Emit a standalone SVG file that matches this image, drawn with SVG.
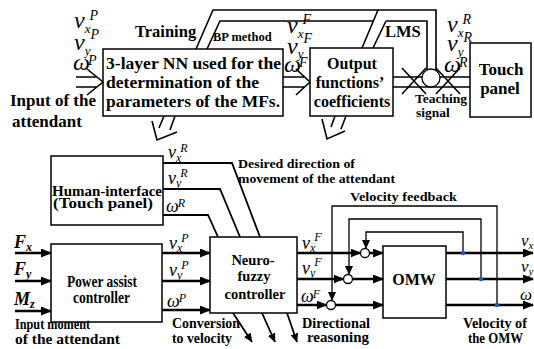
<svg xmlns="http://www.w3.org/2000/svg" width="534" height="349" viewBox="0 0 534 349" font-family="'Liberation Serif', 'Times New Roman', 'DejaVu Serif', serif">
<defs>
<marker id="ah" markerUnits="userSpaceOnUse" markerWidth="11" markerHeight="9" refX="10" refY="4.5" orient="auto"><path d="M0,0 L11,4.5 L0,9 z" fill="#000"/></marker>
<marker id="ahs" markerUnits="userSpaceOnUse" markerWidth="9" markerHeight="8" refX="8.5" refY="4" orient="auto"><path d="M0,0 L9,4 L0,8 z" fill="#000"/></marker>
</defs>
<style>
.box{fill:#fff;stroke:#000;stroke-width:1.5}
.sum{fill:#fff;stroke:#000;stroke-width:1.3}
.t{font-weight:bold;fill:#000}
.v{font-style:italic;fill:#000}
.thick{stroke:#000;stroke-width:2.5;fill:none}
.med{stroke:#000;stroke-width:1.8;fill:none}
.thin{stroke:#000;stroke-width:1.3;fill:none}
.hol{stroke:#000;stroke-width:1.6;fill:none}
.dot{fill:#1a5fb4}
</style>
<rect width="534" height="349" fill="#fff"/>

<g id="connectors">
  <path class="hol" d="M76,77 H97 M76,87 H97 M87,69 L103,82 L87,95"/>
  <path class="hol" d="M283,77 H304 M283,87 H304 M296,69 L310,82 L296,95"/>
  <path class="hol" d="M393,77 H470 M393,87 H470"/>
  <path class="hol" d="M402,68 L426,94 M402,94 L426,68"/>
  <path class="hol" d="M460,68 L436,94 M460,94 L436,68"/>
  <path class="hol" d="M196,49 L213,10 H436 V71"/>
  <path class="hol" d="M207,49 L220,21 H373"/>
  <path class="hol" d="M386,21 H427 V71"/>
  <path class="hol" d="M378,10 L362,48 M386,21 L373,48"/>
  <path class="hol" d="M164,116 L159,128 M175,116 L170,130 M152,121 L157,140 L177,132"/>
  <path class="hol" d="M335,116 L331,127 M346,116 L341,129 M322,119 L327,139 L345,131"/>
  <path class="med" d="M163,163 H232 L260,237"/>
  <path class="med" d="M163,189 H220 L240,237"/>
  <path class="med" d="M163,215 H208 L218,237"/>
  <path class="med" d="M233,313 L252,342" marker-end="url(#ahs)"/>
  <path class="med" d="M262,313 L275,342" marker-end="url(#ahs)"/>
  <path class="med" d="M287,313 L297,342" marker-end="url(#ahs)"/>
  <path class="thick" d="M15,253 H51" marker-end="url(#ah)"/>
  <path class="thick" d="M15,281 H51" marker-end="url(#ah)"/>
  <path class="thick" d="M15,311 H51" marker-end="url(#ah)"/>
  <path class="thick" d="M162,253 H210" marker-end="url(#ah)"/>
  <path class="thick" d="M162,281 H210" marker-end="url(#ah)"/>
  <path class="thick" d="M162,310 H210" marker-end="url(#ah)"/>
  <path class="thick" d="M297,253 H360.5" marker-end="url(#ah)"/>
  <path class="thick" d="M297,279 H343.5" marker-end="url(#ah)"/>
  <path class="thick" d="M297,305 H326.5" marker-end="url(#ah)"/>
  <path class="thick" d="M370,253 H383" marker-end="url(#ah)"/>
  <path class="thick" d="M353,279 H383" marker-end="url(#ah)"/>
  <path class="thick" d="M336,305 H383" marker-end="url(#ah)"/>
  <path class="thick" d="M446,253 H533" marker-end="url(#ah)"/>
  <path class="thick" d="M446,279 H533" marker-end="url(#ah)"/>
  <path class="thick" d="M446,305 H533" marker-end="url(#ah)"/>
  <path class="thin" d="M463,253 V232 H366 V248.5" marker-end="url(#ahs)"/>
  <path class="thin" d="M481,279 V219 H349 V274.5" marker-end="url(#ahs)"/>
  <path class="thin" d="M497,305 V206 H332 V300.5" marker-end="url(#ahs)"/>
  <circle class="dot" cx="463" cy="253" r="2.2"/>
  <circle class="dot" cx="481" cy="279" r="2.2"/>
  <circle class="dot" cx="497" cy="305" r="2.2"/>
</g>

<g id="nn">
  <rect class="box" x="103" y="49" width="180" height="67"/>
  <text class="t" x="106" y="69" font-size="17" textLength="175" lengthAdjust="spacingAndGlyphs">3-layer NN used for the</text>
  <text class="t" x="106" y="88" font-size="17" textLength="153" lengthAdjust="spacingAndGlyphs">determination of the</text>
  <text class="t" x="106" y="107" font-size="17" textLength="174" lengthAdjust="spacingAndGlyphs">parameters of the MFs.</text>
</g>
<g id="output-functions">
  <rect class="box" x="310" y="48" width="83" height="68"/>
  <text class="t" x="352" y="69" font-size="16" text-anchor="middle">Output</text>
  <text class="t" x="350" y="88" font-size="16" text-anchor="middle">functions’</text>
  <text class="t" x="352" y="107" font-size="16" text-anchor="middle">coefficients</text>
</g>
<g id="touch-panel">
  <rect class="box" x="470" y="43" width="61" height="74"/>
  <text class="t" x="501" y="75" font-size="17" text-anchor="middle">Touch</text>
  <text class="t" x="500" y="94" font-size="17" text-anchor="middle">panel</text>
</g>
<g id="teaching-signal">
  <circle class="sum" cx="431" cy="78" r="9"/>
  <text class="t" x="441" y="103" font-size="13.5" text-anchor="middle">Teaching</text>
  <text class="t" x="433" y="117" font-size="13.5" text-anchor="middle">signal</text>
</g>
<g id="human-interface">
  <rect class="box" x="51" y="156" width="112" height="69"/>
  <text class="t" x="52" y="196" font-size="14.5" textLength="110" lengthAdjust="spacingAndGlyphs">Human-interface</text>
  <text class="t" x="53" y="208" font-size="14.5" textLength="100" lengthAdjust="spacingAndGlyphs">(Touch panel)</text>
</g>
<g id="power-assist">
  <rect class="box" x="51" y="244" width="111" height="78"/>
  <text class="t" x="67" y="287" font-size="16" textLength="70" lengthAdjust="spacingAndGlyphs">Power assist</text>
  <text class="t" x="73" y="303" font-size="16" textLength="57" lengthAdjust="spacingAndGlyphs">controller</text>
</g>
<g id="neuro-fuzzy">
  <rect class="box" x="210" y="237" width="87" height="76"/>
  <text class="t" x="253" y="265" font-size="14.5" text-anchor="middle">Neuro-</text>
  <text class="t" x="254" y="281" font-size="14.5" text-anchor="middle">fuzzy</text>
  <text class="t" x="255" y="299" font-size="14.5" text-anchor="middle">controller</text>
</g>
<g id="omw">
  <rect class="box" x="383" y="246" width="63" height="72"/>
  <text class="t" x="414" y="285" font-size="16" text-anchor="middle">OMW</text>
</g>
<g id="sum1"><circle class="sum" cx="365" cy="253" r="4.5"/></g>
<g id="sum2"><circle class="sum" cx="348" cy="279" r="4.5"/></g>
<g id="sum3"><circle class="sum" cx="331" cy="305" r="4.5"/></g>

<g id="labels">
  <text class="t" x="135" y="37" font-size="16.5">Training</text>
  <text class="t" x="213" y="41" font-size="12.5">BP method</text>
  <text class="t" x="385" y="37" font-size="16.5">LMS</text>
  <text class="t" x="10" y="106" font-size="17">Input of the</text>
  <text class="t" x="12" y="127" font-size="17">attendant</text>
  <text class="t" x="238" y="168" font-size="13.5" textLength="117" lengthAdjust="spacingAndGlyphs">Desired direction of</text>
  <text class="t" x="238" y="183" font-size="13.5" textLength="157" lengthAdjust="spacingAndGlyphs">movement of the attendant</text>
  <text class="t" x="350" y="201" font-size="13.5" textLength="107" lengthAdjust="spacingAndGlyphs">Velocity feedback</text>
  <text class="t" x="15" y="329" font-size="14.5" textLength="75" lengthAdjust="spacingAndGlyphs">Input moment</text>
  <text class="t" x="15" y="344" font-size="14.5" textLength="105" lengthAdjust="spacingAndGlyphs">of the attendant</text>
  <text class="t" x="172" y="328" font-size="14" textLength="68" lengthAdjust="spacingAndGlyphs">Conversion</text>
  <text class="t" x="172" y="343" font-size="14" textLength="60" lengthAdjust="spacingAndGlyphs">to velocity</text>
  <text class="t" x="302" y="328" font-size="14" textLength="68" lengthAdjust="spacingAndGlyphs">Directional</text>
  <text class="t" x="307" y="342" font-size="14" textLength="62" lengthAdjust="spacingAndGlyphs">reasoning</text>
  <text class="t" x="463" y="328" font-size="14" textLength="64" lengthAdjust="spacingAndGlyphs">Velocity of</text>
  <text class="t" x="468" y="343" font-size="14" textLength="55" lengthAdjust="spacingAndGlyphs">the OMW</text>

  <text class="v" x="74" y="28" font-size="24">v<tspan font-size="13" dy="5">x</tspan><tspan font-size="14" dx="-1" dy="-13">P</tspan></text>
  <text class="v" x="74" y="50" font-size="24">v<tspan font-size="13" dy="5">y</tspan><tspan font-size="14" dx="0" dy="-16">P</tspan></text>
  <text class="v" x="73" y="70" font-size="24">ω<tspan font-size="14" dx="-2" dy="-5">P</tspan></text>

  <text class="v" x="287" y="33" font-size="24">v<tspan font-size="13" dy="5">x</tspan><tspan font-size="14" dx="-1" dy="-14">F</tspan></text>
  <text class="v" x="287" y="54" font-size="24">v<tspan font-size="13" dy="4">y</tspan><tspan font-size="14" dx="0" dy="-15">F</tspan></text>
  <text class="v" x="284" y="72" font-size="24">ω<tspan font-size="14" dx="-2" dy="-5">F</tspan></text>

  <text class="v" x="447" y="32" font-size="24">v<tspan font-size="13" dy="5">x</tspan><tspan font-size="14" dx="-1" dy="-13">R</tspan></text>
  <text class="v" x="447" y="51" font-size="24">v<tspan font-size="13" dy="5">y</tspan><tspan font-size="14" dx="0" dy="-14">R</tspan></text>
  <text class="v" x="444" y="72" font-size="24">ω<tspan font-size="14" dx="-2" dy="-5">R</tspan></text>

  <text class="v" x="168" y="158" font-size="18">v<tspan font-size="12" dy="4">x</tspan><tspan font-size="12" dx="-1" dy="-10">R</tspan></text>
  <text class="v" x="168" y="184" font-size="18">v<tspan font-size="12" dy="3">y</tspan><tspan font-size="12" dx="-1" dy="-10">R</tspan></text>
  <text class="v" x="166" y="212" font-size="18">ω<tspan font-size="12" dx="-1" dy="-5">R</tspan></text>

  <text class="v" x="169" y="249" font-size="18">v<tspan font-size="12" dy="3">x</tspan><tspan font-size="12" dx="-1" dy="-10">P</tspan></text>
  <text class="v" x="169" y="276" font-size="18">v<tspan font-size="12" dy="3">y</tspan><tspan font-size="12" dx="-1" dy="-10">P</tspan></text>
  <text class="v" x="167" y="307" font-size="18">ω<tspan font-size="12" dx="-1" dy="-5">P</tspan></text>

  <text class="v" x="302" y="249" font-size="18">v<tspan font-size="12" dy="3">x</tspan><tspan font-size="12" dx="-1" dy="-11">F</tspan></text>
  <text class="v" x="302" y="274" font-size="18">v<tspan font-size="12" dy="3">y</tspan><tspan font-size="12" dx="-1" dy="-11">F</tspan></text>
  <text class="v" x="301" y="302" font-size="18">ω<tspan font-size="12" dx="-1" dy="-4">F</tspan></text>

  <text class="v" x="521" y="246" font-size="17">v<tspan font-size="11" dy="3">x</tspan></text>
  <text class="v" x="521" y="272" font-size="17">v<tspan font-size="11" dy="3">y</tspan></text>
  <text class="v" x="520" y="300" font-size="17">ω</text>

  <text class="v" x="14" y="248" font-size="18" font-weight="bold">F<tspan font-size="12" dy="3">x</tspan></text>
  <text class="v" x="14" y="275" font-size="18" font-weight="bold">F<tspan font-size="12" dy="3">y</tspan></text>
  <text class="v" x="14" y="305" font-size="18" font-weight="bold">M<tspan font-size="12" dy="3">z</tspan></text>
</g>
</svg>
